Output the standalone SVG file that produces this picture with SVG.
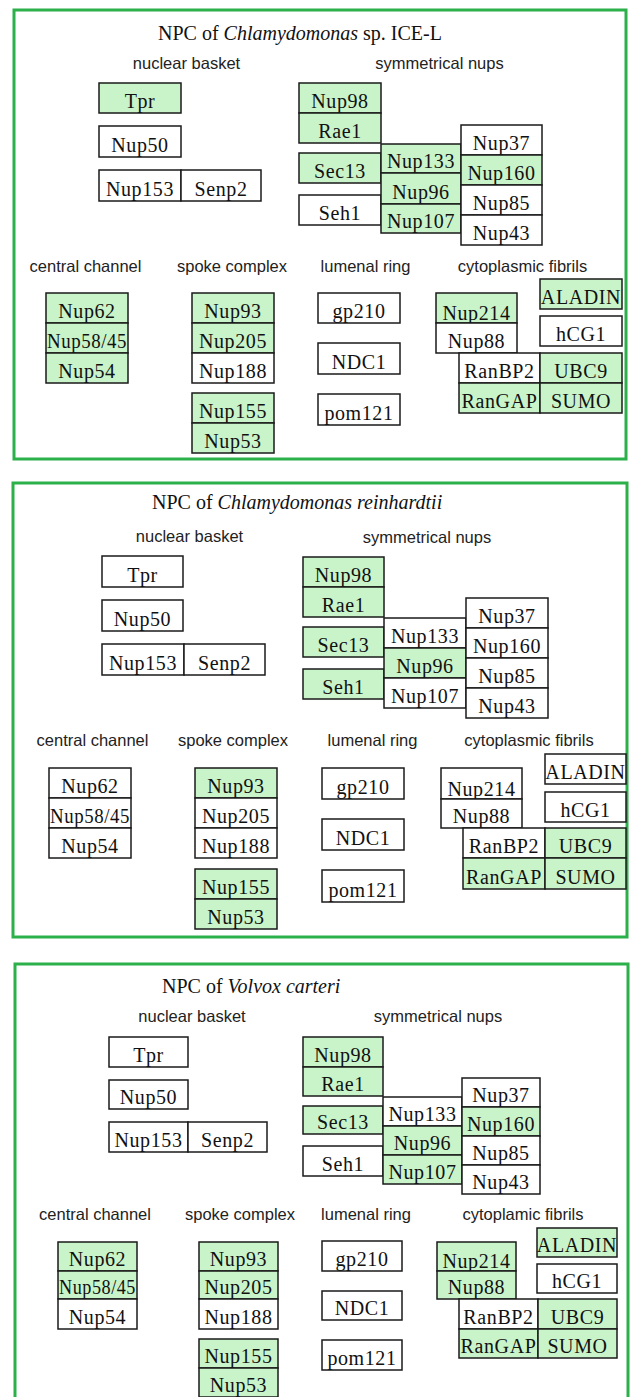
<svg xmlns="http://www.w3.org/2000/svg" width="630" height="1397" viewBox="0 0 630 1397">
<style>
.panel{fill:#fff;stroke:#2bb04a;stroke-width:3}
.g{fill:#c9f4c9;stroke:#1a1a1a;stroke-width:1.5}
.w{fill:#fff;stroke:#1a1a1a;stroke-width:1.5}
.t{font-family:"Liberation Serif",serif;font-size:20px;text-anchor:middle;fill:#111;letter-spacing:0.6px}
.lbl{font-family:"Liberation Sans",Arial,sans-serif;font-size:16.5px;text-anchor:middle;fill:#222}
.ttl{font-family:"Liberation Serif",serif;font-size:20px;fill:#111}
</style>
<rect width="630" height="1397" fill="#fff"/>
<g id="connectors"/>

<!-- Panel 1 -->
<g id="panel1">
<rect class="panel" x="14" y="10" width="612" height="449"/>
<text class="ttl" x="158" y="40">NPC of <tspan font-style="italic">Chlamydomonas</tspan> sp. ICE-L</text>
<text class="lbl" x="186.5" y="69">nuclear basket</text>
<text class="lbl" x="439.5" y="69">symmetrical nups</text>
<text class="lbl" x="85.5" y="272">central channel</text>
<text class="lbl" x="232" y="272">spoke complex</text>
<text class="lbl" x="365.5" y="272">lumenal ring</text>
<text class="lbl" x="522.5" y="272">cytoplasmic fibrils</text>
</g>
<g id="p1-tpr"><rect class="g" x="99" y="83" width="82" height="30"/><text class="t" x="140" y="108">Tpr</text></g>
<g id="p1-nup50"><rect class="w" x="99" y="126" width="82" height="31"/><text class="t" x="140" y="152">Nup50</text></g>
<g id="p1-nup153"><rect class="w" x="99" y="170" width="82" height="31"/><text class="t" x="140" y="196">Nup153</text></g>
<g id="p1-senp2"><rect class="w" x="181" y="170" width="80" height="31"/><text class="t" x="221" y="196">Senp2</text></g>
<g id="p1-nup98"><rect class="g" x="299" y="83" width="82" height="30"/><text class="t" x="340" y="108">Nup98</text></g>
<g id="p1-rae1"><rect class="g" x="299" y="113" width="82" height="30"/><text class="t" x="340" y="138">Rae1</text></g>
<g id="p1-sec13"><rect class="g" x="299" y="153" width="82" height="30"/><text class="t" x="340" y="178">Sec13</text></g>
<g id="p1-seh1"><rect class="w" x="299" y="195" width="82" height="30"/><text class="t" x="340" y="220">Seh1</text></g>
<g id="p1-nup133"><rect class="g" x="381" y="144" width="80" height="29"/><text class="t" x="421" y="168">Nup133</text></g>
<g id="p1-nup96"><rect class="g" x="381" y="173" width="80" height="31"/><text class="t" x="421" y="199">Nup96</text></g>
<g id="p1-nup107"><rect class="g" x="381" y="204" width="80" height="29"/><text class="t" x="421" y="228">Nup107</text></g>
<g id="p1-nup37"><rect class="w" x="461" y="125" width="81" height="30"/><text class="t" x="501.5" y="150">Nup37</text></g>
<g id="p1-nup160"><rect class="g" x="461" y="155" width="81" height="30"/><text class="t" x="501.5" y="180">Nup160</text></g>
<g id="p1-nup85"><rect class="w" x="461" y="185" width="81" height="30"/><text class="t" x="501.5" y="210">Nup85</text></g>
<g id="p1-nup43"><rect class="w" x="461" y="215" width="81" height="30"/><text class="t" x="501.5" y="240">Nup43</text></g>
<g id="p1-nup62"><rect class="g" x="46" y="293" width="82" height="30"/><text class="t" x="87" y="318">Nup62</text></g>
<g id="p1-nup5845"><rect class="g" x="46" y="323" width="82" height="30"/><text class="t" x="87" y="348" textLength="80" lengthAdjust="spacingAndGlyphs">Nup58/45</text></g>
<g id="p1-nup54"><rect class="g" x="46" y="353" width="82" height="30"/><text class="t" x="87" y="378">Nup54</text></g>
<g id="p1-nup93"><rect class="g" x="192" y="293" width="82" height="30"/><text class="t" x="233" y="318">Nup93</text></g>
<g id="p1-nup205"><rect class="g" x="192" y="323" width="82" height="30"/><text class="t" x="233" y="348">Nup205</text></g>
<g id="p1-nup188"><rect class="w" x="192" y="353" width="82" height="30"/><text class="t" x="233" y="378">Nup188</text></g>
<g id="p1-nup155"><rect class="g" x="192" y="393" width="82" height="30"/><text class="t" x="233" y="418">Nup155</text></g>
<g id="p1-nup53"><rect class="g" x="192" y="423" width="82" height="30"/><text class="t" x="233" y="448">Nup53</text></g>
<g id="p1-gp210"><rect class="w" x="318" y="293" width="82" height="30"/><text class="t" x="359" y="318">gp210</text></g>
<g id="p1-ndc1"><rect class="w" x="318" y="343" width="82" height="31"/><text class="t" x="359" y="369">NDC1</text></g>
<g id="p1-pom121"><rect class="w" x="318" y="394" width="82" height="31"/><text class="t" x="359" y="420">pom121</text></g>
<g id="p1-nup214"><rect class="g" x="436" y="293" width="81" height="30"/><text class="t" x="476.5" y="320">Nup214</text></g>
<g id="p1-nup88"><rect class="w" x="436" y="323" width="81" height="30"/><text class="t" x="476.5" y="348">Nup88</text></g>
<g id="p1-aladin"><rect class="g" x="540" y="279" width="82" height="30"/><text class="t" x="581" y="304">ALADIN</text></g>
<g id="p1-hcg1"><rect class="w" x="540" y="316" width="82" height="30"/><text class="t" x="581" y="341">hCG1</text></g>
<g id="p1-ranbp2"><rect class="w" x="459" y="353" width="81" height="30"/><text class="t" x="499.5" y="378">RanBP2</text></g>
<g id="p1-ubc9"><rect class="g" x="540" y="353" width="82" height="30"/><text class="t" x="581" y="378">UBC9</text></g>
<g id="p1-rangap"><rect class="g" x="459" y="383" width="81" height="30"/><text class="t" x="499.5" y="408">RanGAP</text></g>
<g id="p1-sumo"><rect class="g" x="540" y="383" width="82" height="30"/><text class="t" x="581" y="408">SUMO</text></g>

<!-- Panel 2 -->
<g id="panel2">
<rect class="panel" x="13" y="483" width="614" height="454"/>
<text class="ttl" x="152" y="509">NPC of <tspan font-style="italic">Chlamydomonas reinhardtii</tspan></text>
<text class="lbl" x="189.5" y="542">nuclear basket</text>
<text class="lbl" x="427" y="543">symmetrical nups</text>
<text class="lbl" x="92.5" y="746">central channel</text>
<text class="lbl" x="233" y="746">spoke complex</text>
<text class="lbl" x="372.5" y="746">lumenal ring</text>
<text class="lbl" x="529" y="746">cytoplasmic fibrils</text>
</g>
<g id="p2-tpr"><rect class="w" x="102" y="556" width="81" height="31"/><text class="t" x="142.5" y="582">Tpr</text></g>
<g id="p2-nup50"><rect class="w" x="102" y="600" width="81" height="31"/><text class="t" x="142.5" y="626">Nup50</text></g>
<g id="p2-nup153"><rect class="w" x="102" y="644" width="82" height="31"/><text class="t" x="143" y="670">Nup153</text></g>
<g id="p2-senp2"><rect class="w" x="184" y="644" width="81" height="31"/><text class="t" x="224.5" y="670">Senp2</text></g>
<g id="p2-nup98"><rect class="g" x="303" y="557" width="81" height="30"/><text class="t" x="343.5" y="582">Nup98</text></g>
<g id="p2-rae1"><rect class="g" x="303" y="587" width="81" height="30"/><text class="t" x="343.5" y="612">Rae1</text></g>
<g id="p2-sec13"><rect class="g" x="303" y="627" width="81" height="30"/><text class="t" x="343.5" y="652">Sec13</text></g>
<g id="p2-seh1"><rect class="g" x="303" y="669" width="81" height="30"/><text class="t" x="343.5" y="694">Seh1</text></g>
<g id="p2-nup133"><rect class="w" x="384" y="618" width="82" height="30"/><text class="t" x="425" y="643">Nup133</text></g>
<g id="p2-nup96"><rect class="g" x="384" y="648" width="82" height="30"/><text class="t" x="425" y="673">Nup96</text></g>
<g id="p2-nup107"><rect class="w" x="384" y="678" width="82" height="30"/><text class="t" x="425" y="703">Nup107</text></g>
<g id="p2-nup37"><rect class="w" x="466" y="598" width="82" height="30"/><text class="t" x="507" y="623">Nup37</text></g>
<g id="p2-nup160"><rect class="w" x="466" y="628" width="82" height="30"/><text class="t" x="507" y="653">Nup160</text></g>
<g id="p2-nup85"><rect class="w" x="466" y="658" width="82" height="30"/><text class="t" x="507" y="683">Nup85</text></g>
<g id="p2-nup43"><rect class="w" x="466" y="688" width="82" height="30"/><text class="t" x="507" y="713">Nup43</text></g>
<g id="p2-nup62"><rect class="w" x="49" y="768" width="82" height="30"/><text class="t" x="90" y="793">Nup62</text></g>
<g id="p2-nup5845"><rect class="w" x="49" y="798" width="82" height="30"/><text class="t" x="90" y="823" textLength="80" lengthAdjust="spacingAndGlyphs">Nup58/45</text></g>
<g id="p2-nup54"><rect class="w" x="49" y="828" width="82" height="30"/><text class="t" x="90" y="853">Nup54</text></g>
<g id="p2-nup93"><rect class="g" x="195" y="768" width="82" height="30"/><text class="t" x="236" y="793">Nup93</text></g>
<g id="p2-nup205"><rect class="w" x="195" y="798" width="82" height="30"/><text class="t" x="236" y="823">Nup205</text></g>
<g id="p2-nup188"><rect class="w" x="195" y="828" width="82" height="30"/><text class="t" x="236" y="853">Nup188</text></g>
<g id="p2-nup155"><rect class="g" x="195" y="869" width="82" height="30"/><text class="t" x="236" y="894">Nup155</text></g>
<g id="p2-nup53"><rect class="g" x="195" y="899" width="82" height="30"/><text class="t" x="236" y="924">Nup53</text></g>
<g id="p2-gp210"><rect class="w" x="322" y="768" width="82" height="31"/><text class="t" x="363" y="794">gp210</text></g>
<g id="p2-ndc1"><rect class="w" x="322" y="819" width="82" height="31"/><text class="t" x="363" y="845">NDC1</text></g>
<g id="p2-pom121"><rect class="w" x="322" y="870" width="82" height="32"/><text class="t" x="363" y="897">pom121</text></g>
<g id="p2-nup214"><rect class="w" x="441" y="768" width="81" height="31"/><text class="t" x="481.5" y="796">Nup214</text></g>
<g id="p2-nup88"><rect class="w" x="441" y="799" width="81" height="29"/><text class="t" x="481.5" y="823">Nup88</text></g>
<g id="p2-aladin"><rect class="w" x="545" y="754" width="81" height="30"/><text class="t" x="585.5" y="779">ALADIN</text></g>
<g id="p2-hcg1"><rect class="w" x="545" y="792" width="81" height="30"/><text class="t" x="585.5" y="817">hCG1</text></g>
<g id="p2-ranbp2"><rect class="w" x="463" y="828" width="82" height="30"/><text class="t" x="504" y="853">RanBP2</text></g>
<g id="p2-ubc9"><rect class="g" x="545" y="828" width="81" height="30"/><text class="t" x="585.5" y="853">UBC9</text></g>
<g id="p2-rangap"><rect class="g" x="463" y="858" width="82" height="31"/><text class="t" x="504" y="884">RanGAP</text></g>
<g id="p2-sumo"><rect class="g" x="545" y="858" width="81" height="31"/><text class="t" x="585.5" y="884">SUMO</text></g>

<!-- Panel 3 -->
<g id="panel3">
<rect class="panel" x="15" y="964" width="613" height="445"/>
<text class="ttl" x="162" y="993">NPC of <tspan font-style="italic">Volvox carteri</tspan></text>
<text class="lbl" x="192" y="1022">nuclear basket</text>
<text class="lbl" x="438" y="1022">symmetrical nups</text>
<text class="lbl" x="95" y="1220">central channel</text>
<text class="lbl" x="240" y="1220">spoke complex</text>
<text class="lbl" x="366" y="1220">lumenal ring</text>
<text class="lbl" x="523" y="1220">cytoplamic fibrils</text>
</g>
<g id="p3-tpr"><rect class="w" x="109" y="1037" width="79" height="30"/><text class="t" x="148.5" y="1062">Tpr</text></g>
<g id="p3-nup50"><rect class="w" x="109" y="1080" width="79" height="29"/><text class="t" x="148.5" y="1104">Nup50</text></g>
<g id="p3-nup153"><rect class="w" x="109" y="1122" width="79" height="30"/><text class="t" x="148.5" y="1147">Nup153</text></g>
<g id="p3-senp2"><rect class="w" x="188" y="1122" width="79" height="30"/><text class="t" x="227.5" y="1147">Senp2</text></g>
<g id="p3-nup98"><rect class="g" x="303" y="1037" width="80" height="30"/><text class="t" x="343" y="1062">Nup98</text></g>
<g id="p3-rae1"><rect class="g" x="303" y="1067" width="80" height="29"/><text class="t" x="343" y="1091">Rae1</text></g>
<g id="p3-sec13"><rect class="g" x="303" y="1106" width="80" height="28"/><text class="t" x="343" y="1129">Sec13</text></g>
<g id="p3-seh1"><rect class="w" x="303" y="1146" width="80" height="30"/><text class="t" x="343" y="1171">Seh1</text></g>
<g id="p3-nup133"><rect class="w" x="383" y="1097" width="79" height="29"/><text class="t" x="422.5" y="1121">Nup133</text></g>
<g id="p3-nup96"><rect class="g" x="383" y="1126" width="79" height="29"/><text class="t" x="422.5" y="1150">Nup96</text></g>
<g id="p3-nup107"><rect class="g" x="383" y="1155" width="79" height="29"/><text class="t" x="422.5" y="1179">Nup107</text></g>
<g id="p3-nup37"><rect class="w" x="462" y="1078" width="78" height="29"/><text class="t" x="501" y="1102">Nup37</text></g>
<g id="p3-nup160"><rect class="g" x="462" y="1107" width="78" height="29"/><text class="t" x="501" y="1131">Nup160</text></g>
<g id="p3-nup85"><rect class="w" x="462" y="1136" width="78" height="29"/><text class="t" x="501" y="1160">Nup85</text></g>
<g id="p3-nup43"><rect class="w" x="462" y="1165" width="78" height="29"/><text class="t" x="501" y="1189">Nup43</text></g>
<g id="p3-nup62"><rect class="g" x="58" y="1242" width="79" height="29"/><text class="t" x="97.5" y="1266">Nup62</text></g>
<g id="p3-nup5845"><rect class="g" x="58" y="1271" width="79" height="28"/><text class="t" x="97.5" y="1294" textLength="77" lengthAdjust="spacingAndGlyphs">Nup58/45</text></g>
<g id="p3-nup54"><rect class="w" x="58" y="1299" width="79" height="30"/><text class="t" x="97.5" y="1324">Nup54</text></g>
<g id="p3-nup93"><rect class="g" x="199" y="1242" width="79" height="29"/><text class="t" x="238.5" y="1266">Nup93</text></g>
<g id="p3-nup205"><rect class="g" x="199" y="1271" width="79" height="28"/><text class="t" x="238.5" y="1294">Nup205</text></g>
<g id="p3-nup188"><rect class="w" x="199" y="1299" width="79" height="30"/><text class="t" x="238.5" y="1324">Nup188</text></g>
<g id="p3-nup155"><rect class="g" x="199" y="1339" width="79" height="29"/><text class="t" x="238.5" y="1363">Nup155</text></g>
<g id="p3-nup53"><rect class="g" x="199" y="1368" width="79" height="29"/><text class="t" x="238.5" y="1392">Nup53</text></g>
<g id="p3-gp210"><rect class="w" x="322" y="1241" width="80" height="30"/><text class="t" x="362" y="1266">gp210</text></g>
<g id="p3-ndc1"><rect class="w" x="322" y="1291" width="80" height="29"/><text class="t" x="362" y="1315">NDC1</text></g>
<g id="p3-pom121"><rect class="w" x="322" y="1340" width="80" height="30"/><text class="t" x="362" y="1365">pom121</text></g>
<g id="p3-nup214"><rect class="g" x="437" y="1242" width="79" height="29"/><text class="t" x="476.5" y="1268">Nup214</text></g>
<g id="p3-nup88"><rect class="g" x="437" y="1271" width="79" height="28"/><text class="t" x="476.5" y="1294">Nup88</text></g>
<g id="p3-aladin"><rect class="g" x="537" y="1228" width="80" height="29"/><text class="t" x="577" y="1252">ALADIN</text></g>
<g id="p3-hcg1"><rect class="w" x="537" y="1264" width="80" height="29"/><text class="t" x="577" y="1288">hCG1</text></g>
<g id="p3-ranbp2"><rect class="w" x="459" y="1299" width="79" height="30"/><text class="t" x="498.5" y="1324">RanBP2</text></g>
<g id="p3-ubc9"><rect class="g" x="538" y="1299" width="79" height="30"/><text class="t" x="577.5" y="1324">UBC9</text></g>
<g id="p3-rangap"><rect class="g" x="459" y="1329" width="79" height="29"/><text class="t" x="498.5" y="1353">RanGAP</text></g>
<g id="p3-sumo"><rect class="g" x="538" y="1329" width="79" height="29"/><text class="t" x="577.5" y="1353">SUMO</text></g>
</svg>
